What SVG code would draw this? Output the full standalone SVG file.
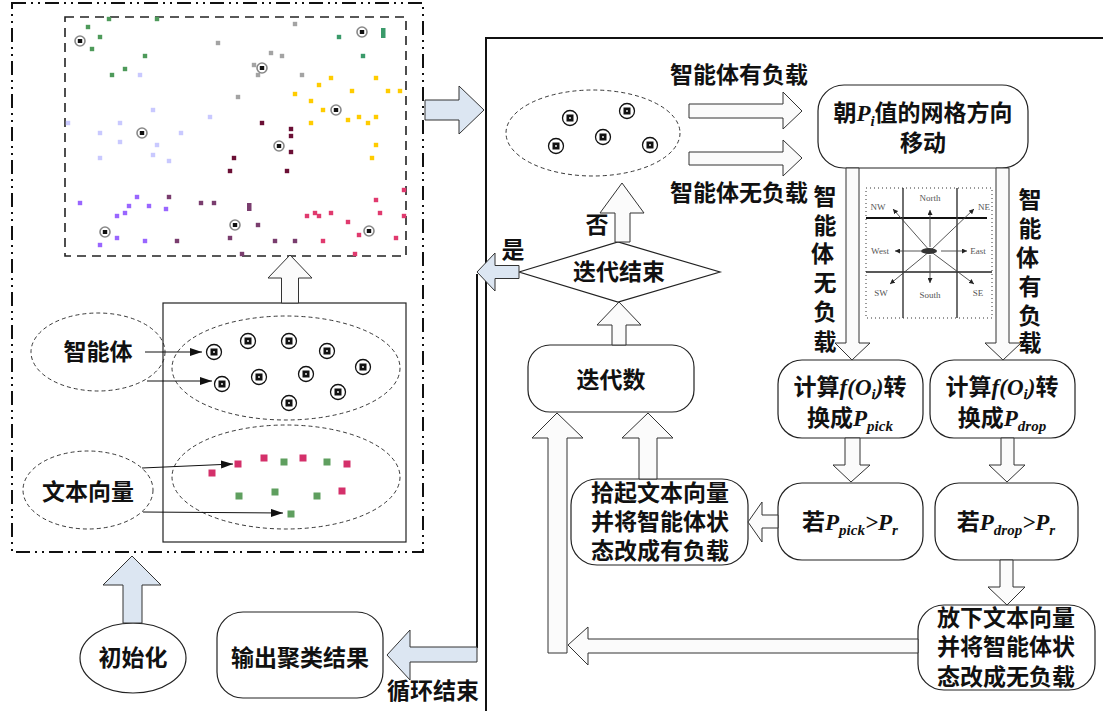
<svg xmlns="http://www.w3.org/2000/svg" xmlns:xlink="http://www.w3.org/1999/xlink" width="1103" height="711" viewBox="0 0 1103 711">
  <defs>
    <style>
      .cjk { font-family: "Noto Sans CJK SC", "Noto Sans", sans-serif; font-size: 23px; font-weight: bold; fill: #111; }
      .m { font-family: "Liberation Serif", serif; font-style: italic; font-weight: bold; }
      .sub { font-family: "Liberation Serif", serif; font-style: italic; font-weight: bold; font-size: 15px; }
      .box { fill: #fff; stroke: #222; stroke-width: 1.2; }
      .dell { fill: none; stroke: #222; stroke-width: 0.9; stroke-dasharray: 4 3; }
      .blk { fill: #dce6f2; stroke: #333; stroke-width: 1; }
      .wht { fill: #fbfbfb; stroke: #333; stroke-width: 1; }
      .thin { fill: none; stroke: #111; stroke-width: 1; }
      .cmp { font-family: "Liberation Serif", serif; font-size: 9px; fill: #555; }
      .g1 { fill: #4e9a5a; } .gy { fill: #a3a3a3; } .tg { fill: #3a9a6a; }
      .lv { fill: #c9c9ff; } .yl { fill: #ffcc00; } .mr { fill: #6b0f35; }
      .pu { fill: #9966ff; } .pl { fill: #7a3d6e; } .pk { fill: #e03a6e; }
      .rd { fill: #d4306a; } .gr { fill: #5f9f5f; }
    </style>
    <marker id="tri" viewBox="0 0 12 8" refX="12" refY="4" markerWidth="12" markerHeight="8" markerUnits="userSpaceOnUse" orient="auto">
      <path d="M0,0 L12,4 L0,8 Z" fill="#111"/>
    </marker>
    <marker id="tiny" viewBox="0 0 6 6" refX="6" refY="3" markerWidth="5" markerHeight="5" markerUnits="userSpaceOnUse" orient="auto">
      <path d="M0,0 L6,3 L0,6 Z" fill="#222"/>
    </marker>
    <g id="agent">
      <circle r="7.5" fill="#fff" stroke="#111" stroke-width="1.3"/>
      <rect x="-3.5" y="-3.5" width="7" height="7" fill="#111"/>
      <circle r="0.9" fill="#fff"/>
    </g>
    <g id="sagent">
      <circle r="5" fill="#fff" stroke="#888" stroke-width="1.6"/>
      <rect x="-2.2" y="-2" width="4.4" height="4" fill="#111"/>
    </g>
    <rect id="pt" x="-2.2" y="-2.2" width="4.4" height="4.4"/>
    <rect id="sq" x="-3.5" y="-3.5" width="7" height="7"/>
  </defs>

  <rect width="1103" height="711" fill="#fff"/>

  <!-- initialisation frame (dash-dot-dot) -->
  <g id="init-frame">
    <rect x="12" y="3" width="411" height="549" fill="none" stroke="#111" stroke-width="2" stroke-dasharray="14 5 2 5 2 5"/>
  </g>

  <!-- scatter of agents and vectors on the grid -->
  <g id="scatter">
    <rect x="65" y="17" width="341" height="239" fill="none" stroke="#222" stroke-width="1.6" stroke-dasharray="9 6"/>
    <g class="g1">
      <use href="#pt" x="109" y="19"/><use href="#pt" x="157" y="19"/><use href="#pt" x="88" y="27"/><use href="#pt" x="100" y="37"/>
      <use href="#pt" x="92" y="49"/><use href="#pt" x="145" y="56"/><use href="#pt" x="125" y="69"/><use href="#pt" x="112" y="75"/>
    </g>
    <g class="gy">
      <use href="#pt" x="218" y="43"/><use href="#pt" x="238" y="97"/><use href="#pt" x="295" y="24"/><use href="#pt" x="271" y="53"/>
      <use href="#pt" x="282" y="56"/><use href="#pt" x="254" y="65"/><use href="#pt" x="258" y="75"/><use href="#pt" x="302" y="75"/>
    </g>
    <g class="tg">
      <use href="#pt" x="339" y="37"/><use href="#pt" x="363" y="56"/>
      <rect x="381" y="28" width="4.5" height="10"/>
    </g>
    <g class="lv">
      <use href="#pt" x="140" y="75"/><use href="#pt" x="153" y="110"/><use href="#pt" x="210" y="117"/><use href="#pt" x="68" y="123"/>
      <use href="#pt" x="120" y="123"/><use href="#pt" x="100" y="133"/><use href="#pt" x="181" y="133"/><use href="#pt" x="120" y="142"/>
      <use href="#pt" x="157" y="145"/><use href="#pt" x="153" y="155"/><use href="#pt" x="100" y="158"/><use href="#pt" x="169" y="161"/>
    </g>
    <g class="yl">
      <use href="#pt" x="331" y="78"/><use href="#pt" x="376" y="78"/><use href="#pt" x="319" y="85"/><use href="#pt" x="352" y="91"/>
      <use href="#pt" x="388" y="91"/><use href="#pt" x="400" y="91"/><use href="#pt" x="295" y="94"/><use href="#pt" x="311" y="101"/>
      <use href="#pt" x="323" y="110"/><use href="#pt" x="348" y="120"/><use href="#pt" x="359" y="117"/><use href="#pt" x="376" y="117"/>
      <use href="#pt" x="368" y="123"/><use href="#pt" x="311" y="123"/><use href="#pt" x="376" y="145"/><use href="#pt" x="372" y="158"/>
    </g>
    <g class="mr">
      <use href="#pt" x="262" y="123"/><use href="#pt" x="291" y="129"/><use href="#pt" x="291" y="136"/><use href="#pt" x="291" y="152"/>
      <use href="#pt" x="287" y="171"/><use href="#pt" x="234" y="158"/><use href="#pt" x="230" y="171"/>
    </g>
    <g class="pu">
      <use href="#pt" x="80" y="203"/><use href="#pt" x="137" y="197"/><use href="#pt" x="129" y="206"/><use href="#pt" x="149" y="206"/>
      <use href="#pt" x="125" y="213"/><use href="#pt" x="117" y="216"/><use href="#pt" x="166" y="209"/><use href="#pt" x="117" y="238"/>
      <use href="#pt" x="145" y="241"/><use href="#pt" x="100" y="245"/>
    </g>
    <g class="pl">
      <use href="#pt" x="169" y="197"/><use href="#pt" x="201" y="203"/><use href="#pt" x="214" y="203"/>
      <rect x="247" y="203" width="4.5" height="8"/>
      <use href="#pt" x="177" y="241"/><use href="#pt" x="230" y="238"/><use href="#pt" x="242" y="254"/><use href="#pt" x="258" y="225"/>
      <use href="#pt" x="275" y="241"/><use href="#pt" x="295" y="241"/>
    </g>
    <g class="pk">
      <use href="#pt" x="404" y="190"/><use href="#pt" x="376" y="200"/><use href="#pt" x="307" y="216"/><use href="#pt" x="315" y="213"/>
      <use href="#pt" x="319" y="216"/><use href="#pt" x="331" y="213"/><use href="#pt" x="348" y="222"/><use href="#pt" x="380" y="213"/>
      <use href="#pt" x="404" y="216"/><use href="#pt" x="359" y="235"/><use href="#pt" x="396" y="238"/><use href="#pt" x="323" y="241"/>
      <use href="#pt" x="355" y="254"/>
    </g>
    <use href="#sagent" x="80" y="41"/><use href="#sagent" x="142" y="133"/><use href="#sagent" x="362" y="32"/>
    <use href="#sagent" x="262" y="68"/><use href="#sagent" x="336" y="110"/><use href="#sagent" x="105" y="232"/>
    <use href="#sagent" x="235" y="225"/><use href="#sagent" x="279" y="146"/><use href="#sagent" x="369" y="231"/>
  </g>

  <!-- initial population: agents and text vectors -->
  <g id="population">
    <rect x="163" y="303" width="243" height="239" fill="#fff" stroke="#222" stroke-width="1.2"/>
    <ellipse class="dell" cx="286" cy="368" rx="114" ry="52"/>
    <ellipse class="dell" cx="286" cy="477" rx="114" ry="52"/>
    <use href="#agent" x="214" y="352"/><use href="#agent" x="248" y="341"/><use href="#agent" x="289" y="341"/>
    <use href="#agent" x="327" y="351"/><use href="#agent" x="363" y="367"/><use href="#agent" x="222" y="384"/>
    <use href="#agent" x="259" y="377"/><use href="#agent" x="306" y="374"/><use href="#agent" x="338" y="392"/>
    <use href="#agent" x="289" y="403"/>
    <g class="rd">
      <use href="#sq" x="238" y="464"/><use href="#sq" x="212" y="473"/><use href="#sq" x="264" y="458"/>
      <use href="#sq" x="303" y="458"/><use href="#sq" x="347" y="464"/><use href="#sq" x="342" y="491"/>
    </g>
    <g class="gr">
      <use href="#sq" x="284" y="462"/><use href="#sq" x="327" y="462"/><use href="#sq" x="239" y="496"/>
      <use href="#sq" x="275" y="492"/><use href="#sq" x="317" y="496"/><use href="#sq" x="291" y="514"/>
    </g>
  </g>

  <g id="label-agent">
    <ellipse class="dell" cx="98" cy="352" rx="67" ry="39"/>
    <text class="cjk" x="98" y="360" text-anchor="middle">智能体</text>
  </g>
  <g id="label-vector">
    <ellipse class="dell" cx="88" cy="490" rx="65" ry="39"/>
    <text class="cjk" x="88" y="500" text-anchor="middle">文本向量</text>
  </g>

  <g id="init">
    <ellipse cx="133" cy="658" rx="53" ry="35" fill="#fff" stroke="#222" stroke-width="1.2"/>
    <text class="cjk" x="133" y="666" text-anchor="middle">初始化</text>
  </g>

  <g id="output">
    <rect class="box" x="217" y="612" width="166" height="86" rx="26"/>
    <text class="cjk" x="300" y="666" text-anchor="middle">输出聚类结果</text>
  </g>

  <!-- iteration loop frame -->
  <g id="loop-frame">
    <path d="M486,711 V38 H1103" fill="none" stroke="#111" stroke-width="2"/>
  </g>

  <g id="moving-agents">
    <ellipse class="dell" cx="593" cy="133" rx="87" ry="43"/>
    <use href="#agent" x="570" y="118"/><use href="#agent" x="627" y="111"/><use href="#agent" x="603" y="137"/>
    <use href="#agent" x="556" y="146"/><use href="#agent" x="650" y="145"/>
  </g>

  <g id="move">
    <rect class="box" x="818" y="85" width="210" height="83" rx="26"/>
    <text class="cjk" x="923" y="121" text-anchor="middle">朝<tspan class="m">P</tspan><tspan class="sub" dy="5">i</tspan><tspan dy="-5">值的网格方向</tspan></text>
    <text class="cjk" x="923" y="151" text-anchor="middle">移动</text>
  </g>

  <!-- eight-neighbour movement grid -->
  <g id="compass-grid">
    <rect x="866" y="188" width="126" height="130" fill="#fff" stroke="#333" stroke-width="1" stroke-dasharray="1 3"/>
    <line x1="866" y1="218" x2="987" y2="218" stroke="#111" stroke-width="2.2"/>
    <line x1="866" y1="272" x2="992" y2="272" stroke="#222" stroke-width="1.4"/>
    <line x1="903" y1="188" x2="903" y2="318" stroke="#333" stroke-width="1.4"/>
    <line x1="957" y1="188" x2="957" y2="318" stroke="#333" stroke-width="1.4"/>
    <g stroke="#444" stroke-width="0.9" marker-end="url(#tiny)">
      <line x1="930" y1="247" x2="930" y2="210"/>
      <line x1="930" y1="255" x2="930" y2="283"/>
      <line x1="921" y1="251" x2="895" y2="251"/>
      <line x1="941" y1="251" x2="967" y2="251"/>
      <line x1="930" y1="251" x2="893" y2="209"/>
      <line x1="930" y1="251" x2="974" y2="209"/>
      <line x1="930" y1="251" x2="890" y2="284"/>
      <line x1="930" y1="251" x2="974" y2="284"/>
    </g>
    <ellipse cx="929" cy="251" rx="8" ry="3" fill="#333"/>
    <text class="cmp" x="878" y="210" text-anchor="middle">NW</text>
    <text class="cmp" x="930" y="201" text-anchor="middle">North</text>
    <text class="cmp" x="984" y="210" text-anchor="middle">NE</text>
    <text class="cmp" x="880" y="254" text-anchor="middle">West</text>
    <text class="cmp" x="978" y="254" text-anchor="middle">East</text>
    <text class="cmp" x="881" y="296" text-anchor="middle">SW</text>
    <text class="cmp" x="930" y="298" text-anchor="middle">South</text>
    <text class="cmp" x="978" y="296" text-anchor="middle">SE</text>
  </g>

  <g id="calc-pick">
    <rect class="box" x="778" y="360" width="145" height="78" rx="24"/>
    <text class="cjk" x="850" y="395" text-anchor="middle">计算<tspan class="m">f</tspan><tspan class="m">(O</tspan><tspan class="sub" dy="4">i</tspan><tspan class="m" dy="-4">)</tspan>转</text>
    <text class="cjk" x="850" y="426" text-anchor="middle">换成<tspan class="m">P</tspan><tspan class="sub" dy="5">pick</tspan></text>
  </g>
  <g id="calc-drop">
    <rect class="box" x="930" y="360" width="145" height="78" rx="24"/>
    <text class="cjk" x="1002" y="395" text-anchor="middle">计算<tspan class="m">f</tspan><tspan class="m">(O</tspan><tspan class="sub" dy="4">i</tspan><tspan class="m" dy="-4">)</tspan>转</text>
    <text class="cjk" x="1002" y="426" text-anchor="middle">换成<tspan class="m">P</tspan><tspan class="sub" dy="5">drop</tspan></text>
  </g>

  <g id="test-pick">
    <rect class="box" x="778" y="483" width="145" height="77" rx="24"/>
    <text class="cjk" x="850" y="530" text-anchor="middle">若<tspan class="m">P</tspan><tspan class="sub" dy="5">pick</tspan><tspan class="m" dy="-5">&gt;P</tspan><tspan class="sub" dy="5">r</tspan></text>
  </g>
  <g id="test-drop">
    <rect class="box" x="935" y="483" width="143" height="77" rx="24"/>
    <text class="cjk" x="1006" y="530" text-anchor="middle">若<tspan class="m">P</tspan><tspan class="sub" dy="5">drop</tspan><tspan class="m" dy="-5">&gt;P</tspan><tspan class="sub" dy="5">r</tspan></text>
  </g>

  <g id="pick-up">
    <rect class="box" x="571" y="479" width="177" height="86" rx="26"/>
    <text class="cjk" x="660" y="501" text-anchor="middle">拾起文本向量</text>
    <text class="cjk" x="660" y="530" text-anchor="middle">并将智能体状</text>
    <text class="cjk" x="660" y="559" text-anchor="middle">态改成有负载</text>
  </g>
  <g id="drop-down">
    <rect class="box" x="918" y="605" width="177" height="85" rx="26"/>
    <text class="cjk" x="1006" y="626" text-anchor="middle">放下文本向量</text>
    <text class="cjk" x="1006" y="655" text-anchor="middle">并将智能体状</text>
    <text class="cjk" x="1006" y="685" text-anchor="middle">态改成无负载</text>
  </g>

  <g id="iterations">
    <rect class="box" x="528" y="345" width="166" height="67" rx="22"/>
    <text class="cjk" x="611" y="388" text-anchor="middle">迭代数</text>
  </g>

  <g id="end-check">
    <polygon points="519,272 618,242 720,272 618,302" fill="#fff" stroke="#222" stroke-width="1.2"/>
    <text class="cjk" x="619" y="280" text-anchor="middle">迭代结束</text>
  </g>

  <!-- connectors -->
  <g id="connectors">
    <line class="thin" x1="145" y1="352" x2="202" y2="352" marker-end="url(#tri)"/>
    <line class="thin" x1="147" y1="381" x2="212" y2="381" marker-end="url(#tri)"/>
    <line class="thin" x1="142" y1="468" x2="233" y2="464" marker-end="url(#tri)"/>
    <line class="thin" x1="143" y1="512" x2="283" y2="513" marker-end="url(#tri)"/>

    <polygon class="wht" points="290,255 312,278 298.5,278 298.5,303 281.5,303 281.5,278 268,278"/>
    <polygon class="blk" points="132,556 161,585 142,585 142,623 123,623 123,585 103,585"/>
    <polygon class="blk" points="484,110 459,86 459,100 425,100 425,120 459,120 459,134"/>

    <polygon class="wht" points="802,111 783,92 783,104 689,104 689,118 783,118 783,129"/>
    <polygon class="wht" points="802,158 783,140 783,152 689,152 689,165 783,165 783,176"/>

    <polygon class="wht" points="852,360 870,343 859,343 859,168 846,168 846,343 835,343"/>
    <polygon class="wht" points="1003,360 1021,343 1009,343 1009,168 996,168 996,343 985,343"/>

    <polygon class="wht" points="851,482 870,465 860,465 860,438 845,438 845,465 833,465"/>
    <polygon class="wht" points="1007,482 1025,465 1014,465 1014,438 1001,438 1001,465 989,465"/>
    <polygon class="wht" points="1007,605 1025,587 1013,587 1013,560 1000,560 1000,587 988,587"/>

    <polygon class="wht" points="748,522 762,502 762,515 778,515 778,528 762,528 762,542"/>
    <polygon class="wht" points="568,645 588,627 588,639 918,639 918,653 588,653 588,665"/>
    <polygon class="wht" points="557,413 583,438 567,438 567,653 548,653 548,438 532,438"/>
    <polygon class="wht" points="648,413 673,438 657,438 657,479 639,479 639,438 622,438"/>

    <polygon class="wht" points="619,302 641,325 626,325 626,345 612,345 612,325 597,325"/>
    <polygon class="wht" points="622,183 644,213 630,213 630,242 615,242 615,213 600,213"/>
    <polygon class="blk" points="477,272 495,253 495,265.5 519,265.5 519,278.5 495,278.5 495,291"/>

    <line x1="477" y1="274" x2="477" y2="648" stroke="#111" stroke-width="2"/>
    <polygon class="blk" points="387,655 410,630 410,647 477,647 477,662 410,662 410,680"/>
  </g>

  <!-- connector labels -->
  <g id="connector-labels">
    <text class="cjk" x="739" y="83" text-anchor="middle">智能体有负载</text>
    <text class="cjk" x="739" y="201" text-anchor="middle">智能体无负载</text>
    <text class="cjk" x="597" y="233" text-anchor="middle">否</text>
    <text class="cjk" x="513" y="258" text-anchor="middle">是</text>
    <text class="cjk" x="433" y="699" text-anchor="middle">循环结束</text>
    <text class="cjk" text-anchor="middle">
      <tspan x="825" y="205">智</tspan><tspan x="825" y="234">能</tspan><tspan x="825" y="262">体</tspan>
      <tspan x="825" y="291">无</tspan><tspan x="825" y="320">负</tspan><tspan x="825" y="350">载</tspan>
    </text>
    <text class="cjk" text-anchor="middle">
      <tspan x="1030" y="208">智</tspan><tspan x="1030" y="237">能</tspan><tspan x="1030" y="266">体</tspan>
      <tspan x="1030" y="295">有</tspan><tspan x="1030" y="324">负</tspan><tspan x="1030" y="351">载</tspan>
    </text>
  </g>
</svg>
